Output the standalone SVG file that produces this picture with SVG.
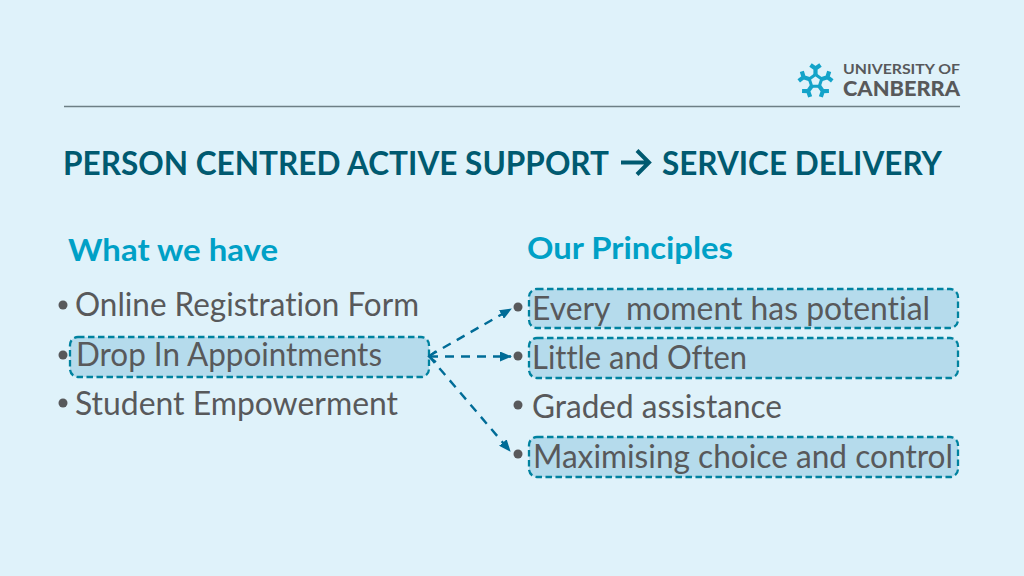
<svg xmlns="http://www.w3.org/2000/svg" width="1024" height="576" viewBox="0 0 1024 576">
<style>
text{font-family:Lato,"Liberation Sans",sans-serif;font-variant-ligatures:none}
.h{font-weight:700;font-size:33px;fill:#005a70}
.s{font-weight:700;font-size:31px;fill:#00a0c6}
.b{font-size:32px;fill:#58595b}
.d{fill:#58595b}
.box{fill:#b5dbec;stroke:#00829f;stroke-width:2.300;stroke-dasharray:6.500 3.500}
.c{fill:none;stroke:#006c97;stroke-width:2.400;stroke-dasharray:9 7}
.i{fill:none;stroke:#13a3c9;stroke-linejoin:round}
</style>
<defs>
<marker id="a" markerWidth="12" markerHeight="10" refX="11" refY="5" orient="auto" markerUnits="userSpaceOnUse"><path d="M0 0L12 5L0 10Z" fill="#006c97"/></marker>
<g id="arm"><path d="M0-6V-12.500M-5-16L0-12.500L5-16" stroke-width="4.200"/></g>
</defs>
<rect width="1024" height="576" fill="#dff2fa"/>
<g id="logo">
<g class="i" transform="translate(815.500 81)">
<path d="M0-6.500L6.200-2L3.800 5.300H-3.800L-6.200-2Z" stroke-width="3"/>
<use href="#arm"/><use href="#arm" transform="rotate(72)"/><use href="#arm" transform="rotate(144)"/><use href="#arm" transform="rotate(216)"/><use href="#arm" transform="rotate(288)"/>
</g>
<text x="843" y="74" font-size="14" font-weight="700" fill="#58595b" textLength="117" lengthAdjust="spacingAndGlyphs">UNIVERSITY OF</text>
<text x="843" y="96" font-size="21" font-weight="900" fill="#58595b" textLength="117" lengthAdjust="spacingAndGlyphs">CANBERRA</text>
</g>
<line x1="64" y1="106.500" x2="960" y2="106.500" stroke="#6d7f85" stroke-width="1.300"/>
<g id="title">
<text class="h" x="63" y="175" textLength="546" lengthAdjust="spacingAndGlyphs">PERSON CENTRED ACTIVE SUPPORT</text>
<path d="M621 162.500H648M637 150.500L649 162.500L637 174.500" fill="none" stroke="#005a70" stroke-width="4"/>
<text class="h" x="662" y="175" textLength="280" lengthAdjust="spacingAndGlyphs">SERVICE DELIVERY</text>
</g>
<g id="left">
<text class="s" x="68" y="261" textLength="210" lengthAdjust="spacingAndGlyphs">What we have</text>
<circle class="d" cx="63" cy="305" r="4.500"/>
<text class="b" x="75" y="316" textLength="344" lengthAdjust="spacingAndGlyphs">Online Registration Form</text>
</g>
<g id="n-drop">
<rect class="box" x="70" y="337" width="359" height="40" rx="8"/>
<circle class="d" cx="63" cy="355" r="4.500"/>
<text class="b" x="76" y="366" textLength="306" lengthAdjust="spacingAndGlyphs">Drop In Appointments</text>
</g>
<g id="n-student">
<circle class="d" cx="63" cy="403" r="4.500"/>
<text class="b" x="75" y="415" textLength="323" lengthAdjust="spacingAndGlyphs">Student Empowerment</text>
</g>
<g id="right-head">
<text class="s" x="527" y="259" textLength="206" lengthAdjust="spacingAndGlyphs">Our Principles</text>
</g>
<g id="n-every">
<rect class="box" x="529" y="289" width="429" height="39" rx="8"/>
<circle class="d" cx="518" cy="307" r="4.500"/>
<text class="b" x="532" y="320" textLength="398" lengthAdjust="spacingAndGlyphs" xml:space="preserve">Every  moment has potential</text>
</g>
<g id="n-little">
<rect class="box" x="529" y="338" width="429" height="40" rx="8"/>
<circle class="d" cx="518" cy="356" r="4.500"/>
<text class="b" x="532" y="369" textLength="215" lengthAdjust="spacingAndGlyphs">Little and Often</text>
</g>
<g id="n-graded">
<circle class="d" cx="518" cy="405" r="4.500"/>
<text class="b" x="532" y="418" textLength="250" lengthAdjust="spacingAndGlyphs">Graded assistance</text>
</g>
<g id="n-max">
<rect class="box" x="529" y="437" width="429" height="40" rx="8"/>
<circle class="d" cx="518" cy="454" r="4.500"/>
<text class="b" x="533" y="468" textLength="420" lengthAdjust="spacingAndGlyphs">Maximising choice and control</text>
</g>
<g id="connectors">
<path class="c" d="M429 356L511 309" marker-end="url(#a)"/>
<path class="c" d="M429 356.500H511" marker-end="url(#a)"/>
<path class="c" d="M429 356L510 451" marker-end="url(#a)"/>
<path d="M436 351L429 356.500L436 362" fill="none" stroke="#006c97" stroke-width="2.200"/>
</g>
</svg>
